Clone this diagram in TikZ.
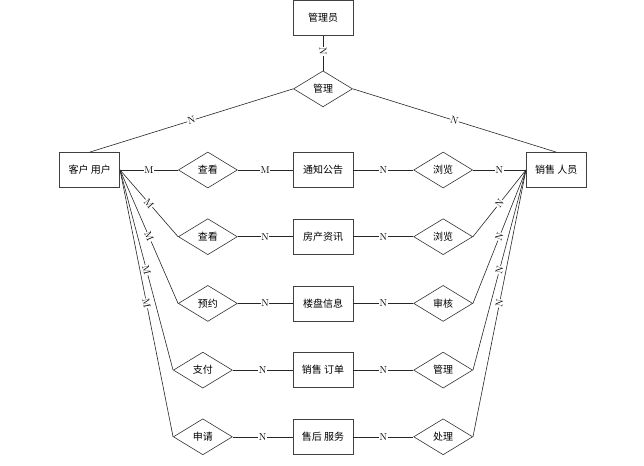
\documentclass[tikz,border=0pt]{standalone}
\usepackage{fontspec}
\newfontfamily\cjk{Noto Sans CJK SC}
\usetikzlibrary{shapes.geometric, positioning}

\begin{document}
\begin{tikzpicture}[
    x=1pt, y=-1pt,
    ent/.style={rectangle, draw=black!75, line width=0.7pt, minimum width=60pt, minimum height=35pt, align=center, font=\cjk\fontsize{10}{10}\selectfont, inner sep=2pt},
    rel/.style={diamond, draw=black!80, line width=0.6pt, minimum width=59pt, minimum height=36pt, inner sep=0pt, font=\cjk\fontsize{10}{10}\selectfont},
    lnk/.style={draw=black!85, line width=0.6pt},
    card/.style={midway, sloped, fill=white, inner sep=0.5pt, font=\fontsize{10}{10}\selectfont}
]
\useasboundingbox[fill=white] (0,0) rectangle (644,465);
% middle column
\node[ent] (nt) at (323,170) {通知公告};
\node[ent, below=31pt of nt] (fc) {房产资讯};
\node[ent, below=31pt of fc] (lp) {楼盘信息};
\node[ent, below=31pt of lp] (xd) {销售 订单};
\node[ent, below=31pt of xd] (sh) {售后 服务};
% relationships
\node[rel, left=55pt of nt] (ck1) {查看};
\node[rel, left=55pt of fc] (ck2) {查看};
\node[rel, left=55pt of lp] (yy) {预约};
\node[rel, left=60pt of xd] (zf) {支付};
\node[rel, left=60pt of sh] (sq) {申请};
\node[rel, right=60pt of nt] (ll1) {浏览};
\node[rel, right=60pt of fc] (ll2) {浏览};
\node[rel, right=60pt of lp] (sk) {审核};
\node[rel, right=60pt of xd] (gl2) {管理};
\node[rel, right=60pt of sh] (cl) {处理};
% users
\node[ent, left=58pt of ck1] (kh) {客户 用户};
\node[ent, right=53pt of ll1] (xs) {销售 人员};
\node[rel, above=45pt of nt] (gl) {管理};
\node[ent, above=35pt of gl] (gly) {管理员};
\draw[lnk] (gly) -- node[card, pos=0.45] {N} (gl);
\draw[lnk] (gl.west) -- node[card] {N} (kh.north);
\draw[lnk] (gl.east) -- node[card] {N} (xs.north);
\draw[lnk] (kh) -- node[card] {M} (ck1); \draw[lnk] (ck1) -- node[card] {M} (nt);
\draw[lnk] (nt) -- node[card] {N} (ll1); \draw[lnk] (ll1) -- node[card] {N} (xs);
\draw[lnk] (ck2) -- node[card] {N} (fc); \draw[lnk] (fc) -- node[card] {N} (ll2);
\draw[lnk] (yy) -- node[card] {N} (lp); \draw[lnk] (lp) -- node[card] {N} (sk);
\draw[lnk] (zf) -- node[card] {N} (xd); \draw[lnk] (xd) -- node[card] {N} (gl2);
\draw[lnk] (sq) -- node[card] {N} (sh); \draw[lnk] (sh) -- node[card] {N} (cl);
\draw[lnk] (kh.east) -- node[card] {M} (ck2.west);
\draw[lnk] (kh.east) -- node[card] {M} (yy.west);
\draw[lnk] (kh.east) -- node[card] {M} (zf.west);
\draw[lnk] (kh.east) -- node[card] {M} (sq.west);
\draw[lnk] (xs.west) -- node[card] {N} (ll2.east);
\draw[lnk] (xs.west) -- node[card] {N} (sk.east);
\draw[lnk] (xs.west) -- node[card] {N} (gl2.east);
\draw[lnk] (xs.west) -- node[card] {N} (cl.east);
\end{tikzpicture}
\end{document}
